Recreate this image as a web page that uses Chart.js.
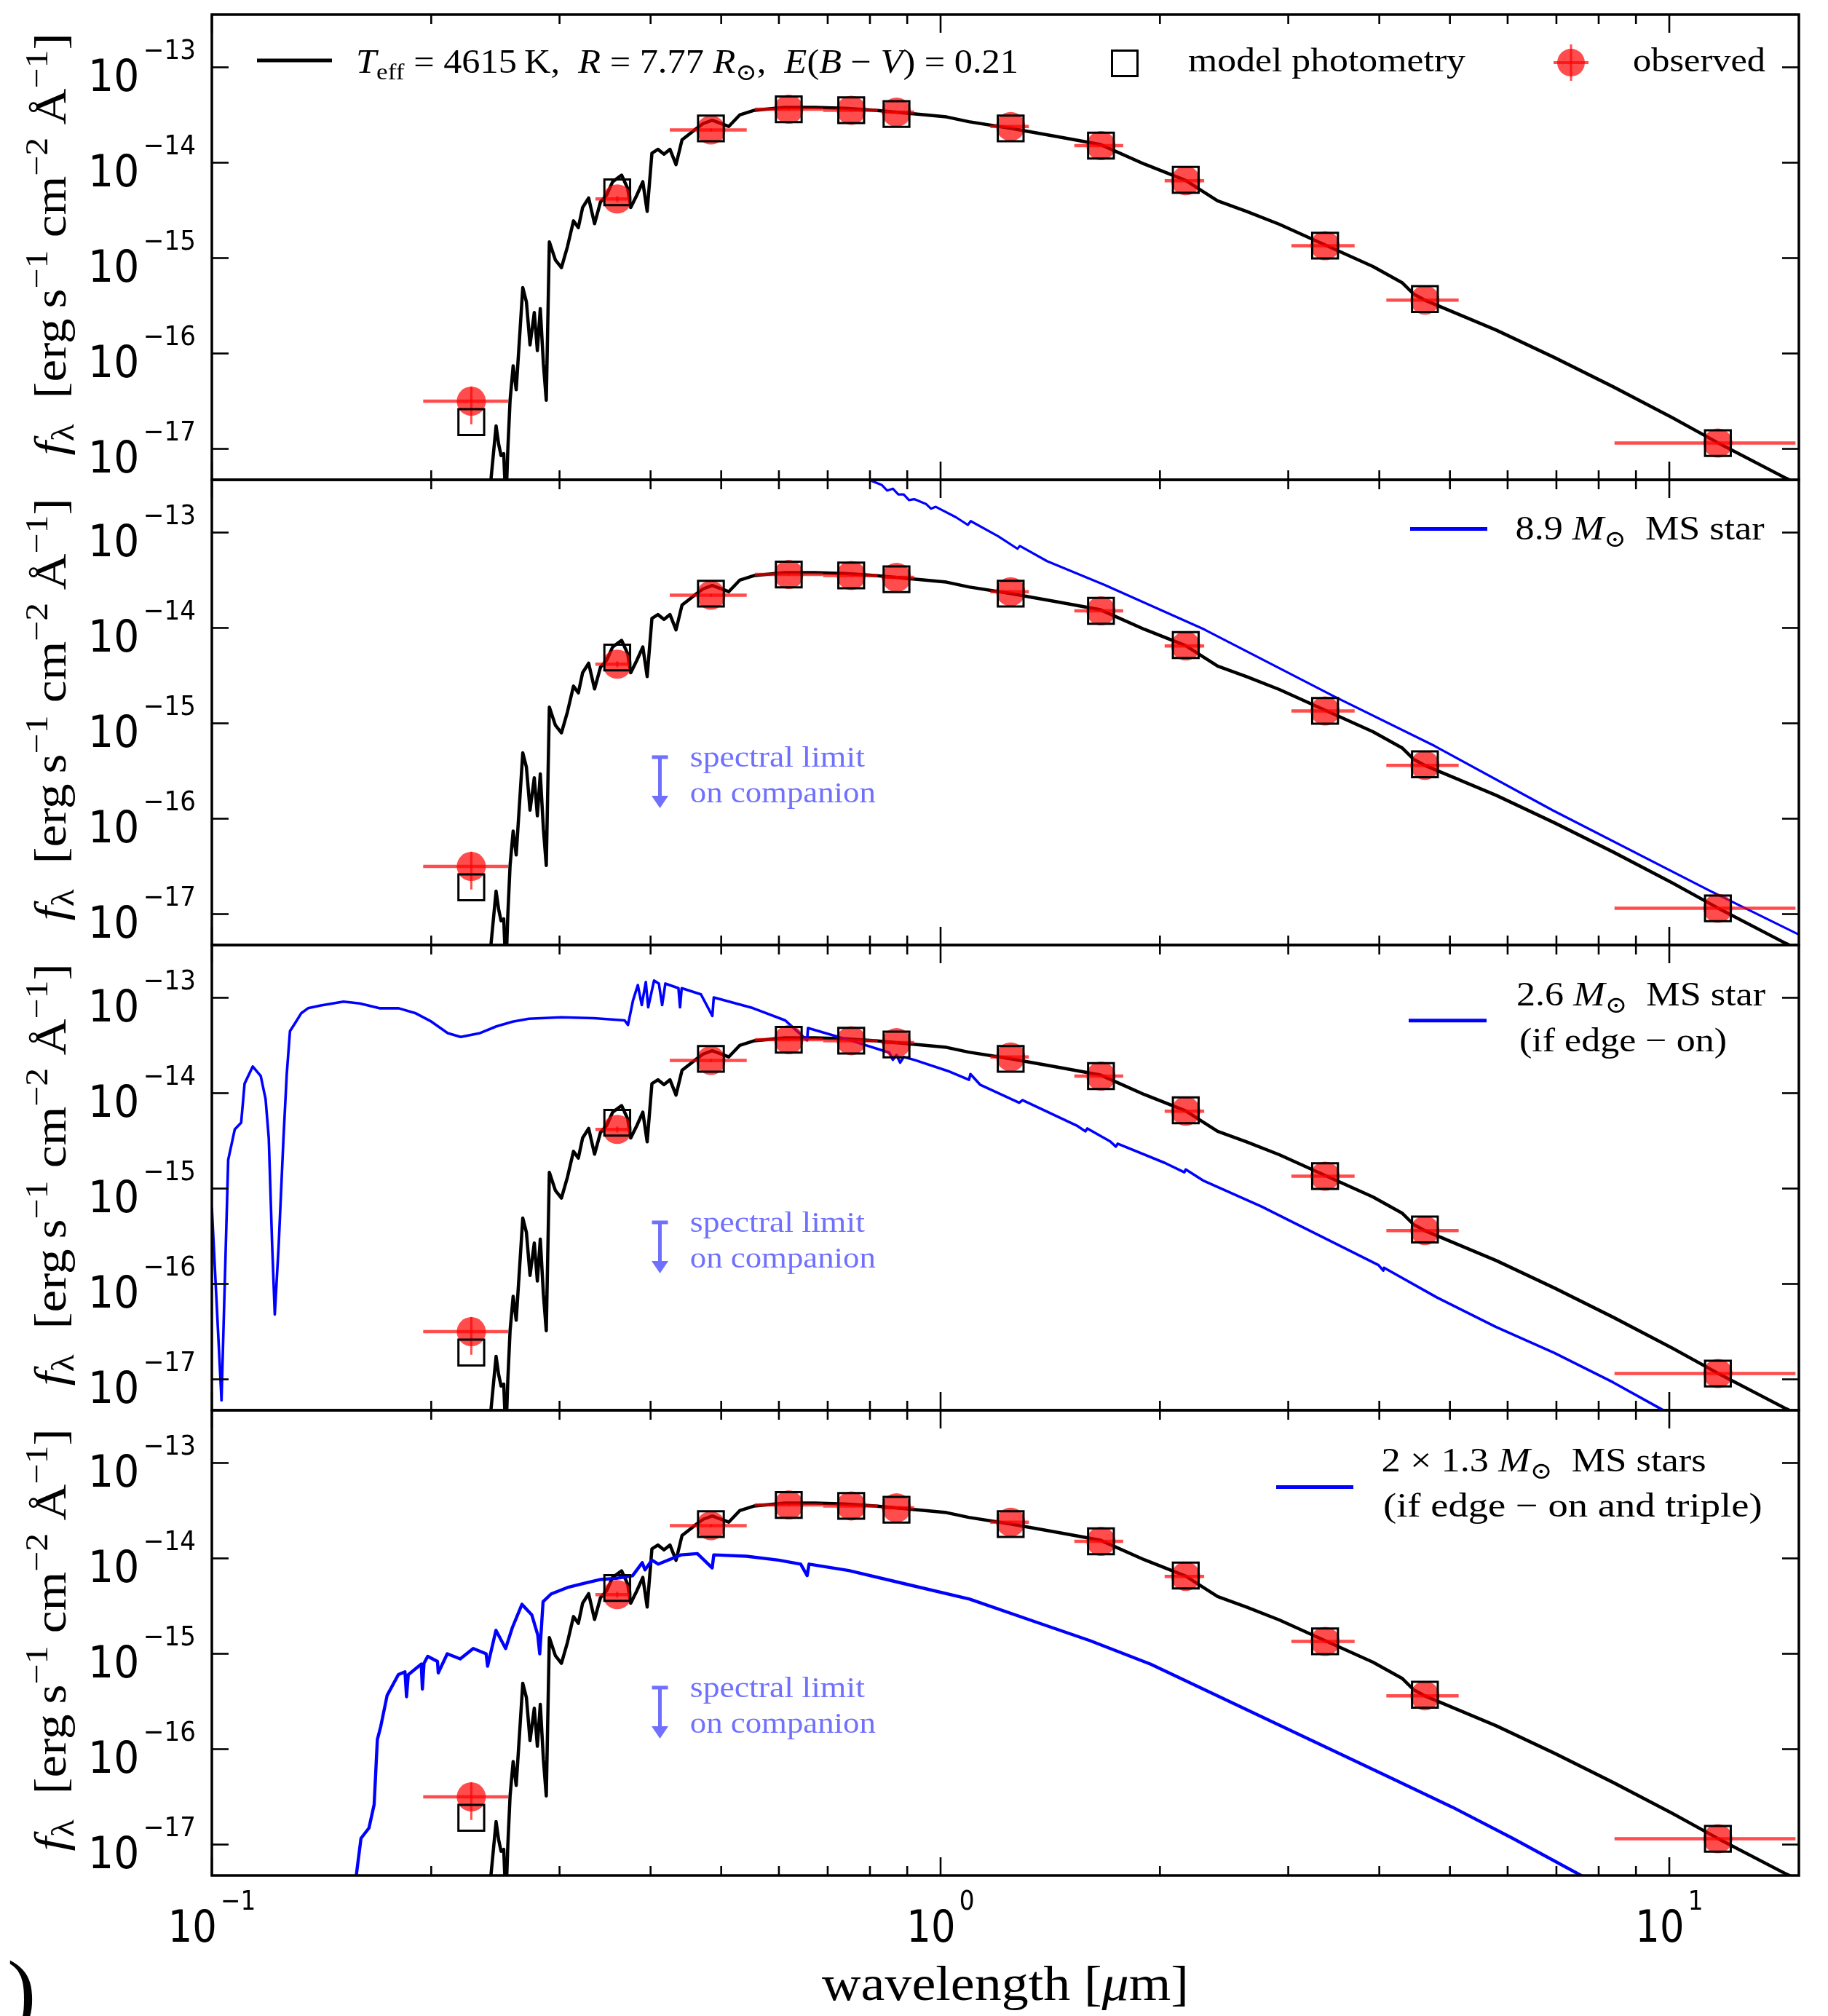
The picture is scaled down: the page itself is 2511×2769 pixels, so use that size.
<!DOCTYPE html>
<html>
<head>
<meta charset="utf-8">
<title>SED fit with companion limits</title>
<script src="https://cdn.jsdelivr.net/npm/chart.js@4/dist/chart.umd.min.js"></script>
<style>
  html, body { margin: 0; padding: 0; background: #fff; }
  #page { position: relative; width: 2511px; height: 2769px; overflow: hidden; background: #fff; }
  #page canvas { position: absolute; left: 0; }
</style>
</head>
<body>
<div id="page"></div>
<script>
// ---------------- data ----------------
// Photometric bands: central wavelength and band edges (micron)
const photWave   = [0.227, 0.360, 0.484, 0.619, 0.754, 0.870, 1.248, 1.660, 2.170, 3.370, 4.620, 11.66];
const photBandLo = [0.195, 0.336, 0.425, 0.556, 0.690, 0.830, 1.170, 1.526, 2.030, 3.030, 4.090, 8.410];
const photBandHi = [0.255, 0.374, 0.542, 0.690, 0.820, 0.920, 1.322, 1.781, 2.300, 3.700, 5.140, 14.90];
// Observed fluxes and 1-sigma errors (erg s^-1 cm^-2 A^-1)
const obsFlux = [3.16e-17, 4.17e-15, 2.20e-14, 3.63e-14, 3.55e-14, 3.39e-14, 2.40e-14, 1.51e-14, 6.46e-15, 1.35e-15, 3.63e-16, 1.15e-17];
const obsErr  = [1.35e-17, 3.0e-16, 8.0e-16, 1.0e-15, 1.0e-15, 1.0e-15, 5.0e-16, 3.0e-16, 1.2e-16, 3.0e-17, 8.0e-18, 4.0e-19];
// Synthetic photometry of the best-fit giant model
const modelFlux = [1.91e-17, 4.90e-15, 2.29e-14, 3.63e-14, 3.55e-14, 3.24e-14, 2.29e-14, 1.51e-14, 6.61e-15, 1.35e-15, 3.72e-16, 1.15e-17];

// Model spectra as [wavelength (micron), log10 flux]
const giantSpectrum = [
  [0.235, -18.00], [0.2410, -17.40], [0.2455, -16.76], [0.2475, -16.95], [0.2494, -17.07], [0.2515, -17.05],
  [0.2532, -17.60], [0.2548, -17.00], [0.2566, -16.49], [0.2591, -16.13], [0.2616, -16.38], [0.2651, -15.70],
  [0.2671, -15.31], [0.2702, -15.46], [0.2733, -15.91], [0.2770, -15.57], [0.2797, -15.97], [0.2823, -15.53],
  [0.2851, -16.11], [0.2877, -16.49], [0.2905, -14.83], [0.2961, -15.02], [0.3018, -15.10], [0.3076, -14.88],
  [0.3135, -14.61], [0.3184, -14.68], [0.3227, -14.47], [0.3289, -14.37], [0.3351, -14.64], [0.3415, -14.41],
  [0.3481, -14.34], [0.3548, -14.20], [0.3650, -14.13], [0.3721, -14.27], [0.3757, -14.47], [0.3830, -14.34],
  [0.3903, -14.20], [0.3957, -14.51], [0.4017, -13.90], [0.4094, -13.86], [0.4173, -13.91], [0.4253, -13.86],
  [0.4335, -14.02], [0.4418, -13.76], [0.4504, -13.71], [0.4590, -13.66], [0.4723, -13.59], [0.4860, -13.555],
  [0.5120, -13.62], [0.5300, -13.50], [0.5555, -13.45], [0.6110, -13.42], [0.6724, -13.42], [0.7397, -13.43],
  [0.8136, -13.45], [0.8950, -13.48], [1.019, -13.52], [1.093, -13.57], [1.248, -13.64], [1.443, -13.725],
  [1.658, -13.81], [1.905, -14.015], [2.168, -14.185], [2.290, -14.30], [2.400, -14.40], [2.630, -14.51],
  [2.916, -14.645], [3.380, -14.866], [3.920, -15.088], [4.303, -15.26], [4.460, -15.378], [4.634, -15.446],
  [5.787, -15.755], [6.966, -16.045], [8.380, -16.35], [10.10, -16.674], [11.66, -16.936], [14.48, -17.31],
  [15.50, -17.42]
];

const ms89Spectrum = [
  [0.780, -12.40], [0.804, -12.458], [0.830, -12.50], [0.845, -12.56], [0.860, -12.54], [0.875, -12.60],
  [0.890, -12.60], [0.905, -12.66], [0.920, -12.65], [0.955, -12.70], [0.970, -12.75], [0.985, -12.73],
  [1.050, -12.84], [1.090, -12.92], [1.100, -12.88], [1.200, -13.04], [1.275, -13.17], [1.285, -13.14],
  [1.400, -13.30], [1.680, -13.55], [2.301, -14.016], [3.477, -14.723], [4.763, -15.237], [6.920, -15.912],
  [11.31, -16.747], [15.04, -17.213], [15.50, -17.26]
];

const ms26Spectrum = [
  [0.1000, -15.20], [0.1031, -17.22], [0.1053, -14.70], [0.1075, -14.38], [0.1097, -14.31], [0.1109, -13.90],
  [0.1138, -13.72], [0.1167, -13.82], [0.1185, -14.06], [0.1197, -14.47], [0.1210, -15.60], [0.1220, -16.32],
  [0.1235, -15.60], [0.1254, -14.47], [0.1267, -13.80], [0.1280, -13.35], [0.1300, -13.27], [0.1327, -13.16],
  [0.1355, -13.11], [0.1411, -13.08], [0.1516, -13.04], [0.1596, -13.06], [0.1698, -13.11], [0.1805, -13.11],
  [0.1901, -13.16], [0.2001, -13.25], [0.2107, -13.37], [0.2195, -13.41], [0.2334, -13.37], [0.2457, -13.30],
  [0.2587, -13.25], [0.2723, -13.22], [0.3017, -13.205], [0.3344, -13.214], [0.3685, -13.237], [0.3724, -13.285],
  [0.3784, -13.028], [0.3842, -12.867], [0.3890, -13.076], [0.3940, -12.835], [0.3970, -13.10], [0.4044, -12.82],
  [0.4106, -12.851], [0.4149, -13.076], [0.4191, -12.851], [0.4368, -12.899], [0.4390, -13.10], [0.4413, -12.899],
  [0.4690, -12.964], [0.4862, -13.19], [0.4884, -12.996], [0.5524, -13.108], [0.6121, -13.237], [0.6560, -13.446],
  [0.6577, -13.317], [0.7516, -13.446], [0.8503, -13.574], [0.8600, -13.65], [0.8700, -13.60], [0.8800, -13.68],
  [0.8900, -13.62], [0.9228, -13.654], [1.023, -13.767], [1.094, -13.86], [1.099, -13.80], [1.133, -13.911],
  [1.282, -14.10], [1.296, -14.073], [1.542, -14.345], [1.580, -14.40], [1.590, -14.37], [1.709, -14.506],
  [1.740, -14.56], [1.750, -14.53], [2.031, -14.731], [2.160, -14.83], [2.170, -14.80], [2.291, -14.915],
  [2.756, -15.188], [3.316, -15.495], [3.990, -15.802], [4.050, -15.86], [4.060, -15.83], [4.800, -16.142],
  [5.777, -16.449], [6.950, -16.722], [8.365, -17.03], [9.790, -17.32], [10.30, -17.42]
];

const ms13Spectrum = [
  [0.1560, -17.60], [0.1578, -17.33], [0.1602, -16.935], [0.1643, -16.826], [0.1670, -16.58], [0.1687, -15.90],
  [0.1705, -15.763], [0.1740, -15.436], [0.1803, -15.218], [0.1841, -15.19], [0.1850, -15.45], [0.1860, -15.22],
  [0.1938, -15.108], [0.1945, -15.37], [0.1955, -15.10], [0.1978, -15.027], [0.2040, -15.08], [0.2045, -15.20],
  [0.2104, -15.00], [0.2192, -15.054], [0.2284, -14.945], [0.2379, -15.00], [0.2390, -15.13], [0.2454, -14.754],
  [0.2530, -14.945], [0.2584, -14.727], [0.2664, -14.482], [0.2748, -14.591], [0.2800, -14.80], [0.2818, -15.00],
  [0.2848, -14.454], [0.2922, -14.372], [0.3076, -14.305], [0.3237, -14.263], [0.3408, -14.222], [0.3589, -14.209],
  [0.3778, -14.182], [0.3896, -14.045], [0.3930, -14.12], [0.4017, -14.018], [0.4100, -14.06], [0.4405, -13.963],
  [0.4637, -13.95], [0.4860, -14.10], [0.4884, -13.963], [0.5413, -13.977], [0.5996, -14.018], [0.6428, -14.06],
  [0.6560, -14.18], [0.6600, -14.06], [0.748, -14.127], [0.905, -14.277], [1.096, -14.427], [1.326, -14.645],
  [1.604, -14.863], [1.942, -15.109], [2.350, -15.408], [2.843, -15.708], [3.441, -16.008], [4.164, -16.308],
  [5.039, -16.608], [6.098, -16.935], [7.593, -17.33], [8.000, -17.42]
];

// Upper-limit marker for the companion (wavelength, flux from / to)
const limitArrowWave = 0.412;
const limitArrowFlux = [4.42e-16, 1.29e-16];
const limitTextWave = 0.4531;
const limitTextFlux = [3.52e-16, 1.49e-16];

// Axis ranges and ticks
const waveRange = [0.1, 15.06];
const fluxRange = [4.74e-18, 3.573e-13];
const xMajorTicks = [0.1, 1, 10];
const xMinorTicks = [0.2, 0.3, 0.4, 0.5, 0.6, 0.7, 0.8, 0.9, 2, 3, 4, 5, 6, 7, 8, 9];
const xTickExponents = [-1, 0, 1];
const yMajorTicks = [1e-13, 1e-14, 1e-15, 1e-16, 1e-17];
const yTickExponents = [-13, -14, -15, -16, -17];

// ---------------- layout ----------------
const PAGE_W = 2511, PAGE_H = 2769;
const PLOT_LEFT = 291, PLOT_RIGHT = 2471;
const PANEL_TOPS = [20, 659, 1298, 1937];
const PANEL_H = 639;
const CANVAS_MARGIN = 40;

const SERIF = '"Liberation Serif", "DejaVu Serif", "Times New Roman", serif';
const SANS = '"DejaVu Sans", "Liberation Sans", sans-serif';
const RED = 'rgba(255,0,0,0.7)';
const LIMIT_BLUE = '#7070ff';

const SUN = { t: '\u2299', sc: 0.7, dy: 0.22 };

const panels = [
  { companion: null },
  {
    companion: ms89Spectrum, blueWidth: 3.2,
    legendLine: { x0: 1646, x1: 1752, y: 67.6 },
    legendText: [
      { segs: [{ t: '8.9 ' }, { t: 'M', it: 1 }, SUN, { t: '  MS star' }], x: 1790.6, y: 81.5, w: 342 }
    ]
  },
  {
    companion: ms26Spectrum, blueWidth: 3.6,
    legendLine: { x0: 1644, x1: 1751, y: 103.8 },
    legendText: [
      { segs: [{ t: '2.6 ' }, { t: 'M', it: 1 }, SUN, { t: '  MS star' }], x: 1792, y: 83, w: 342 },
      { segs: [{ t: '(if edge \u2212 on)' }], x: 1796, y: 145.7, w: 285 }
    ]
  },
  {
    companion: ms13Spectrum, blueWidth: 4.4,
    legendLine: { x0: 1462, x1: 1568, y: 105.5 },
    legendText: [
      { segs: [{ t: '2 \u00d7 1.3 ' }, { t: 'M', it: 1 }, SUN, { t: '  MS stars' }], x: 1606.6, y: 83.5, w: 446 },
      { segs: [{ t: '(if edge \u2212 on and triple)' }], x: 1609, y: 146, w: 520.6 }
    ]
  }
];

// ---------------- text helpers ----------------
function drawRich(ctx, segs, x, y, o) {
  const fam = o.family || SERIF;
  const font = s => (s.it ? 'italic ' : '') + (o.size * (s.sc || 1)).toFixed(1) + 'px ' + fam;
  const widths = segs.map(s => {
    ctx.font = font(s);
    return ctx.measureText(s.t).width + (s.gap || 0) * o.size;
  });
  const natural = widths.reduce((p, c) => p + c, 0);
  const sx = o.width ? o.width / natural : (o.sx || 1);
  const total = natural * sx;
  let x0 = x;
  if (o.align === 'center') x0 = x - total / 2;
  else if (o.align === 'right') x0 = x - total;
  ctx.save();
  ctx.translate(x0, y);
  ctx.scale(sx, 1);
  ctx.fillStyle = o.color || '#000';
  ctx.textAlign = 'left';
  ctx.textBaseline = 'alphabetic';
  let cx = 0;
  segs.forEach((s, i) => {
    ctx.font = font(s);
    ctx.fillText(s.t, cx + (s.gap || 0) * o.size, (s.dy || 0) * o.size);
    cx += widths[i];
  });
  ctx.restore();
}

function powerLabel(exp) {
  return [{ t: '10' }, { t: exp < 0 ? '\u2212' + (-exp) : String(exp), sc: 0.62, dy: -0.73, gap: 0.1 }];
}

const yTitleSegs = [
  { t: 'f', it: 1 }, { t: '\u03bb', sc: 0.72, dy: 0.18 }, { t: '  [erg\u2009s' },
  { t: '\u22121', sc: 0.72, dy: -0.4 }, { t: ' cm' }, { t: '\u22122', sc: 0.72, dy: -0.4 },
  { t: ' \u00c5' }, { t: '\u22121', sc: 0.72, dy: -0.4 }, { t: ']' }
];

const giantLegendSegs = [
  { t: 'T', it: 1 }, { t: 'eff', sc: 0.7, dy: 0.2 }, { t: ' = 4615\u2009K,  ' },
  { t: 'R', it: 1 }, { t: ' = 7.77 ' }, { t: 'R', it: 1 }, SUN, { t: ',  ' },
  { t: 'E', it: 1 }, { t: '(' }, { t: 'B', it: 1 }, { t: ' \u2212 ' }, { t: 'V', it: 1 }, { t: ') = 0.21' }
];

// ---------------- drawing plugin ----------------
function line(ctx, x0, y0, x1, y1) {
  ctx.beginPath(); ctx.moveTo(x0, y0); ctx.lineTo(x1, y1); ctx.stroke();
}

function drawErrorBars(chart) {
  const ctx = chart.ctx, xs = chart.scales.x, ys = chart.scales.y, a = chart.chartArea;
  ctx.save();
  ctx.beginPath();
  ctx.rect(a.left, a.top, a.right - a.left, a.bottom - a.top);
  ctx.clip();
  ctx.strokeStyle = RED;
  ctx.lineCap = 'butt';
  photWave.forEach((w, i) => {
    const y = ys.getPixelForValue(obsFlux[i]);
    ctx.lineWidth = 4.5;
    line(ctx, xs.getPixelForValue(photBandLo[i]), y, xs.getPixelForValue(photBandHi[i]), y);
    const xc = xs.getPixelForValue(w);
    ctx.lineWidth = 3;
    line(ctx, xc, ys.getPixelForValue(obsFlux[i] - obsErr[i]), xc, ys.getPixelForValue(obsFlux[i] + obsErr[i]));
  });
  ctx.restore();
}

function makeDecor(pi) {
  const cfg = panels[pi];
  return {
    id: 'sedDecor' + pi,
    beforeDatasetDraw(chart, args) {
      if (chart.data.datasets[args.index].kind === 'observed') drawErrorBars(chart);
    },
    afterDraw(chart) {
      const ctx = chart.ctx, a = chart.chartArea, xs = chart.scales.x, ys = chart.scales.y;
      ctx.save();
      ctx.strokeStyle = '#000';
      ctx.lineCap = 'butt';

      // inward tick marks
      ctx.lineWidth = 2.6;
      xMajorTicks.forEach(v => {
        const x = xs.getPixelForValue(v);
        line(ctx, x, a.top, x, a.top + 25);
        line(ctx, x, a.bottom, x, a.bottom - 25);
      });
      xMinorTicks.forEach(v => {
        const x = xs.getPixelForValue(v);
        line(ctx, x, a.top, x, a.top + 13);
        line(ctx, x, a.bottom, x, a.bottom - 13);
      });
      yMajorTicks.forEach(v => {
        const y = ys.getPixelForValue(v);
        line(ctx, a.left, y, a.left + 23, y);
        line(ctx, a.right, y, a.right - 23, y);
      });

      // frame
      ctx.lineWidth = 3.5;
      ctx.strokeRect(a.left, a.top, a.right - a.left, a.bottom - a.top);

      // y tick labels
      yMajorTicks.forEach((v, i) => {
        const y = ys.getPixelForValue(v);
        drawRich(ctx, powerLabel(yTickExponents[i]), a.left - 22, y + 32.5,
          { size: 60, family: SANS, sx: 0.92, align: 'right' });
      });

      // y axis title
      ctx.save();
      ctx.translate(a.left - 201, (a.top + a.bottom) / 2 - 4);
      ctx.rotate(-Math.PI / 2);
      drawRich(ctx, yTitleSegs, 0, 0, { size: 62, width: 580, align: 'center' });
      ctx.restore();

      // legend
      if (pi === 0) {
        ctx.lineWidth = 5;
        line(ctx, a.left + 62, a.top + 63, a.left + 165, a.top + 63);
        drawRich(ctx, giantLegendSegs, a.left + 198, a.top + 80, { size: 46, width: 910 });
        ctx.lineWidth = 3;
        ctx.strokeRect(a.left + 1254 - 17.5, a.top + 67 - 17.5, 35, 35);
        drawRich(ctx, [{ t: 'model photometry' }], a.left + 1341, a.top + 78, { size: 46, width: 381 });
        const cx = a.left + 1867, cy = a.top + 66;
        ctx.fillStyle = RED;
        ctx.beginPath(); ctx.arc(cx, cy, 19, 0, Math.PI * 2); ctx.fill();
        ctx.strokeStyle = RED;
        ctx.lineWidth = 4;
        line(ctx, cx - 24, cy, cx + 24, cy);
        ctx.lineWidth = 3;
        line(ctx, cx, cy - 25, cx, cy + 25);
        drawRich(ctx, [{ t: 'observed' }], a.left + 1952, a.top + 78, { size: 46, width: 182 });
      } else {
        ctx.strokeStyle = '#0000ff';
        ctx.lineWidth = 5;
        line(ctx, a.left + cfg.legendLine.x0, a.top + cfg.legendLine.y, a.left + cfg.legendLine.x1, a.top + cfg.legendLine.y);
        cfg.legendText.forEach(tx => drawRich(ctx, tx.segs, a.left + tx.x, a.top + tx.y, { size: 46, width: tx.w }));

        // spectral upper limit on the companion
        const ax = xs.getPixelForValue(limitArrowWave);
        const y0 = ys.getPixelForValue(limitArrowFlux[0]);
        const y1 = ys.getPixelForValue(limitArrowFlux[1]);
        ctx.strokeStyle = LIMIT_BLUE;
        ctx.fillStyle = LIMIT_BLUE;
        ctx.lineWidth = 5;
        line(ctx, ax - 11, y0, ax + 11, y0);
        line(ctx, ax, y0, ax, y1 - 14);
        ctx.beginPath();
        ctx.moveTo(ax - 11.5, y1 - 17); ctx.lineTo(ax + 11.5, y1 - 17); ctx.lineTo(ax, y1);
        ctx.closePath(); ctx.fill();
        const tx = xs.getPixelForValue(limitTextWave);
        drawRich(ctx, [{ t: 'spectral limit' }], tx, ys.getPixelForValue(limitTextFlux[0]),
          { size: 40, width: 240, color: LIMIT_BLUE });
        drawRich(ctx, [{ t: 'on companion' }], tx, ys.getPixelForValue(limitTextFlux[1]),
          { size: 40, width: 255, color: LIMIT_BLUE });
      }

      // x axis labels on the bottom panel
      if (pi === panels.length - 1) {
        xMajorTicks.forEach((v, i) => {
          drawRich(ctx, powerLabel(xTickExponents[i]), xs.getPixelForValue(v), a.bottom + 91,
            { size: 60, family: SANS, sx: 0.88, align: 'center' });
        });
        drawRich(ctx, [{ t: 'wavelength [' }, { t: '\u03bc', it: 1 }, { t: 'm]' }],
          (a.left + a.right) / 2, a.bottom + 171, { size: 68, width: 504, align: 'center' });
        drawRich(ctx, [{ t: ')' }], 10, chart.height + 6, { size: 118 });
      }
      ctx.restore();
    }
  };
}

// ---------------- charts ----------------
const toPoints = pairs => pairs.map(([w, lf]) => ({ x: w, y: 10 ** lf }));
const page = document.getElementById('page');

panels.forEach((cfg, pi) => {
  const top = PANEL_TOPS[pi], bottom = top + PANEL_H;
  const cTop = pi === 0 ? 0 : top - CANVAS_MARGIN;
  const cBottom = pi === panels.length - 1 ? PAGE_H : bottom + CANVAS_MARGIN;
  const canvas = document.createElement('canvas');
  canvas.width = PAGE_W;
  canvas.height = cBottom - cTop;
  canvas.style.top = cTop + 'px';
  canvas.style.width = PAGE_W + 'px';
  canvas.style.height = (cBottom - cTop) + 'px';
  page.appendChild(canvas);

  const datasets = [
    {
      kind: 'model', label: 'model photometry',
      data: photWave.map((w, i) => ({ x: w, y: modelFlux[i] })),
      showLine: false, pointStyle: 'rect', pointRadius: 25,
      pointBackgroundColor: 'rgba(0,0,0,0)', pointBorderColor: '#000', pointBorderWidth: 3,
      order: 0
    },
    {
      kind: 'observed', label: 'observed',
      data: photWave.map((w, i) => ({ x: w, y: obsFlux[i] })),
      showLine: false, pointStyle: 'circle', pointRadius: 20,
      pointBackgroundColor: RED, pointBorderWidth: 0, pointBorderColor: 'rgba(0,0,0,0)',
      order: 1
    },
    {
      kind: 'giant', label: 'giant model',
      data: toPoints(giantSpectrum),
      showLine: true, borderColor: '#000', borderWidth: 4.5, pointRadius: 0,
      borderJoinStyle: 'round', tension: 0, order: 3
    }
  ];
  if (cfg.companion) {
    datasets.push({
      kind: 'companion', label: 'companion',
      data: toPoints(cfg.companion),
      showLine: true, borderColor: '#0000ff', borderWidth: cfg.blueWidth, pointRadius: 0,
      borderJoinStyle: 'round', tension: 0, order: 2
    });
  }

  new Chart(canvas, {
    type: 'scatter',
    data: { datasets },
    options: {
      responsive: false,
      animation: false,
      devicePixelRatio: 1,
      events: [],
      layout: {
        autoPadding: false,
        padding: {
          left: PLOT_LEFT,
          right: PAGE_W - PLOT_RIGHT,
          top: top - cTop,
          bottom: cBottom - bottom
        }
      },
      scales: {
        x: { type: 'logarithmic', min: waveRange[0], max: waveRange[1], display: false },
        y: { type: 'logarithmic', min: fluxRange[0], max: fluxRange[1], display: false }
      },
      plugins: { legend: { display: false }, tooltip: { enabled: false }, title: { display: false } }
    },
    plugins: [makeDecor(pi)]
  });
});
</script>
</body>
</html>
